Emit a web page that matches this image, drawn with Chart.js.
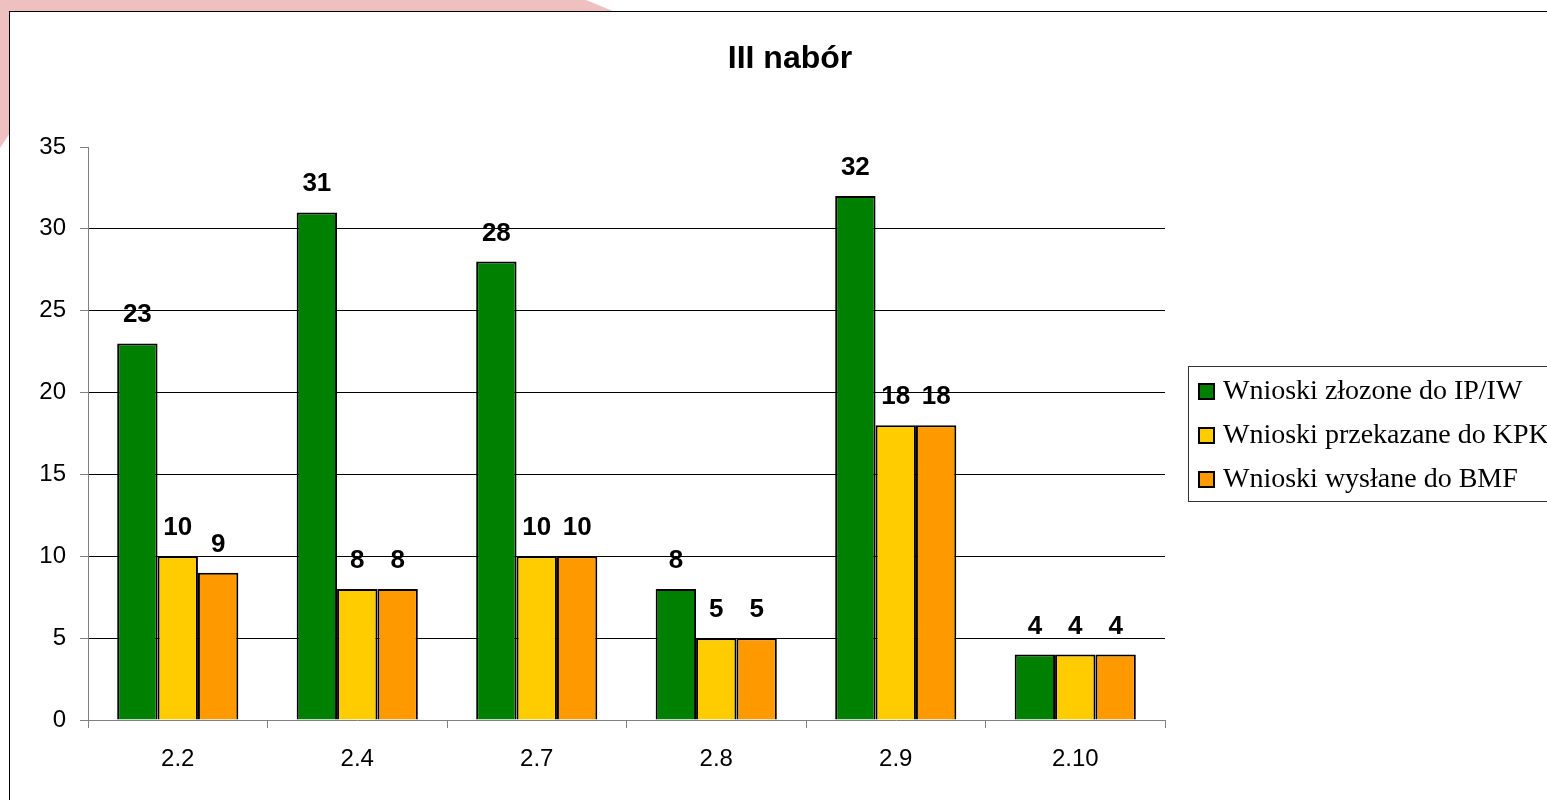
<!DOCTYPE html>
<html>
<head>
<meta charset="utf-8">
<script src="https://cdn.jsdelivr.net/npm/chart.js@4/dist/chart.umd.min.js"></script>
<style>
  html, body { margin: 0; padding: 0; width: 1547px; height: 800px; overflow: hidden; background: #fff; }
  .deco { position: absolute; left: 0; top: 0; width: 640px; height: 160px; background: #efc0c0;
          clip-path: polygon(0 0, 586px 0, 620px 14px, 12px 130px, 0 148px); }
  .frame { position: absolute; left: 9px; top: 11px; width: 1560px; height: 800px;
           border: 1px solid #000; background: #fff; }
</style>
</head>
<body>
<div class="deco"></div>
<div class="frame">
  <canvas id="chart" width="1560" height="800"></canvas>
</div>
<script>
// chart data
const chartTitle = "III nabór";
const categories = ["2.2", "2.4", "2.7", "2.8", "2.9", "2.10"];
const seriesNames = ["Wnioski złozone do IP/IW", "Wnioski przekazane do KPK", "Wnioski wysłane do BMF"];
const zlozone = [23, 31, 28, 8, 32, 4];
const przekazane = [10, 8, 10, 5, 18, 4];
const wyslane = [9, 8, 10, 5, 18, 4];
const yTicks = [0, 5, 10, 15, 20, 25, 30, 35];
const seriesColors = ["#008000", "#ffcc00", "#ff9900"];

const sans = "'Liberation Sans', Arial, sans-serif";
const serif = "'Liberation Serif', 'Times New Roman', serif";

// title centred on the whole frame, not on the plot
const frameTitle = {
  id: "frameTitle",
  afterDraw(chart) {
    const ctx = chart.ctx;
    ctx.save();
    ctx.font = "bold 32px " + sans;
    ctx.fillStyle = "#000";
    ctx.textAlign = "center";
    ctx.textBaseline = "alphabetic";
    ctx.fillText(chartTitle, chart.width / 2, 56);
    ctx.restore();
  }
};

// values over the bars
const valueLabels = {
  id: "valueLabels",
  afterDatasetsDraw(chart) {
    const ctx = chart.ctx;
    ctx.save();
    ctx.font = "bold 26px " + sans;
    ctx.fillStyle = "#000";
    ctx.textAlign = "center";
    ctx.textBaseline = "alphabetic";
    chart.data.datasets.forEach((ds, i) => {
      chart.getDatasetMeta(i).data.forEach((bar, j) => {
        ctx.fillText(String(ds.data[j]), bar.x, bar.y - 21);
      });
    });
    ctx.restore();
  }
};

// boxed legend on the right, drawn like the original
const boxLegend = {
  id: "boxLegend",
  afterDraw(chart) {
    const ctx = chart.ctx;
    const left = 1178, top = 354, w = 400, h = 135, rowGap = 44;
    ctx.save();
    ctx.strokeStyle = "#333";
    ctx.lineWidth = 1;
    ctx.strokeRect(left + 0.5, top + 0.5, w, h);
    ctx.font = "28px " + serif;
    ctx.textBaseline = "middle";
    ctx.textAlign = "left";
    chart.data.datasets.forEach((ds, i) => {
      const cy = top + 26 + i * rowGap;
      ctx.fillStyle = ds.backgroundColor;
      ctx.fillRect(left + 11, cy - 8, 15, 15);
      ctx.strokeStyle = "#000";
      ctx.lineWidth = 2;
      ctx.strokeRect(left + 11, cy - 8, 15, 15);
      ctx.fillStyle = "#000";
      ctx.fillText(ds.label, left + 35, cy);
    });
    ctx.restore();
  }
};

const seriesData = [zlozone, przekazane, wyslane];

new Chart(document.getElementById("chart"), {
  type: "bar",
  data: {
    labels: categories,
    datasets: seriesData.map((vals, i) => ({
      label: seriesNames[i],
      data: vals,
      backgroundColor: seriesColors[i],
      borderColor: "#000",
      borderWidth: 2,
      categoryPercentage: 0.675,
      barPercentage: 1.0
    }))
  },
  options: {
    responsive: false,
    animation: false,
    layout: { padding: { left: 0, right: 405, top: 135, bottom: 32 } },
    plugins: {
      legend: { display: false },
      tooltip: { enabled: false },
      title: { display: false }
    },
    scales: {
      x: {
        afterFit(scale) { scale.height = 60; },
        grid: { drawOnChartArea: false, tickLength: 8, tickColor: "#808080", offset: true },
        border: { color: "#808080", width: 1 },
        ticks: { color: "#000", font: { family: sans, size: 24 }, padding: 17 }
      },
      y: {
        min: 0,
        max: 35,
        afterFit(scale) { scale.width = 78; },
        afterBuildTicks(scale) { scale.ticks = yTicks.map(v => ({ value: v })); },
        grid: {
          tickLength: 8,
          tickColor: "#808080",
          color: ctx => (ctx.tick && (ctx.tick.value === 0 || ctx.tick.value === 35)) ? "rgba(0,0,0,0)" : "#000"
        },
        border: { color: "#808080", width: 1 },
        ticks: { color: "#000", font: { family: sans, size: 24 }, padding: 14 }
      }
    }
  },
  plugins: [frameTitle, valueLabels, boxLegend]
});
</script>
</body>
</html>
